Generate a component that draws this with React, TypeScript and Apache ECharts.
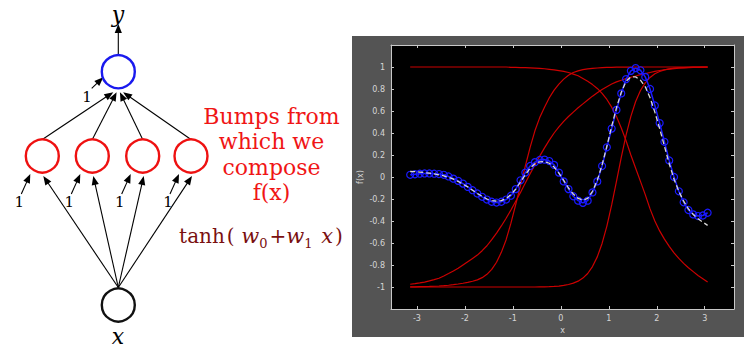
import React, { useEffect, useRef } from "react";
import * as echarts from "echarts";

// sample positions (x) shared by every curve
const xs = [
  -3.14, -3.04, -2.94, -2.84, -2.74, -2.64, -2.54, -2.44, -2.34, -2.24,
  -2.14, -2.04, -1.94, -1.84, -1.74, -1.64, -1.54, -1.44, -1.34, -1.24,
  -1.14, -1.04, -0.94, -0.84, -0.74, -0.64, -0.54, -0.44, -0.34, -0.24,
  -0.14, -0.04, 0.06, 0.16, 0.26, 0.36, 0.46, 0.56, 0.66, 0.76,
  0.86, 0.96, 1.06, 1.16, 1.26, 1.36, 1.46, 1.56, 1.66, 1.76,
  1.86, 1.96, 2.06, 2.16, 2.26, 2.36, 2.46, 2.56, 2.66, 2.76,
  2.86, 2.96, 3.06,
];

// target samples (blue circles)
const target = [
  0.02, 0.025, 0.03, 0.032, 0.032, 0.03, 0.027, 0.02, 0.005, -0.015,
  -0.035, -0.06, -0.09, -0.12, -0.15, -0.18, -0.205, -0.225, -0.232, -0.225,
  -0.205, -0.17, -0.11, -0.03, 0.04, 0.1, 0.135, 0.155, 0.158, 0.145,
  0.11, 0.04, -0.04, -0.11, -0.175, -0.215, -0.235, -0.215, -0.14, -0.04,
  0.1, 0.27, 0.44, 0.61, 0.76, 0.89, 0.965, 0.99, 0.97, 0.91,
  0.8, 0.65, 0.49, 0.32, 0.15, 0.0, -0.13, -0.23, -0.3, -0.34,
  -0.355, -0.35, -0.325,
];

// network output (white dashed)
const fit = [
  0.05, 0.048, 0.045, 0.04, 0.035, 0.028, 0.02, 0.01, -0.003, -0.02,
  -0.04, -0.065, -0.09, -0.12, -0.15, -0.175, -0.2, -0.215, -0.22, -0.215,
  -0.195, -0.16, -0.11, -0.045, 0.02, 0.08, 0.12, 0.138, 0.14, 0.125,
  0.09, 0.035, -0.03, -0.1, -0.155, -0.195, -0.21, -0.195, -0.13, -0.03,
  0.11, 0.28, 0.46, 0.63, 0.77, 0.87, 0.91, 0.91, 0.88, 0.82,
  0.72, 0.59, 0.44, 0.28, 0.12, -0.02, -0.13, -0.22, -0.29, -0.34,
  -0.38, -0.41, -0.44,
];

// hidden-unit bumps (red)
const bumpA = [
  1, 1, 1, 1, 1, 1, 1, 1, 1, 1,
  1, 1, 1, 1, 1, 1, 1, 1, 1, 1,
  1, 0.997, 0.996, 0.995, 0.994, 0.992, 0.99, 0.987, 0.984, 0.979,
  0.974, 0.967, 0.96, 0.95, 0.935, 0.92, 0.895, 0.87, 0.84, 0.805,
  0.76, 0.705, 0.635, 0.55, 0.445, 0.33, 0.2, 0.08, -0.04, -0.16,
  -0.29, -0.4, -0.49, -0.565, -0.63, -0.69, -0.74, -0.785, -0.825, -0.86,
  -0.895, -0.925, -0.955,
];
const bumpB = [
  -0.975, -0.97, -0.963, -0.955, -0.945, -0.933, -0.92, -0.9, -0.878, -0.855,
  -0.83, -0.8, -0.77, -0.74, -0.71, -0.67, -0.625, -0.57, -0.51, -0.445,
  -0.375, -0.3, -0.22, -0.14, -0.055, 0.03, 0.11, 0.19, 0.265, 0.335,
  0.4, 0.455, 0.505, 0.55, 0.59, 0.63, 0.665, 0.7, 0.735, 0.765,
  0.795, 0.82, 0.845, 0.865, 0.88, 0.895, 0.907, 0.918, 0.93, 0.94,
  0.95, 0.96, 0.968, 0.975, 0.98, 0.985, 0.989, 0.992, 0.994, 0.996,
  0.997, 0.998, 0.999,
];
const bumpC = [
  -0.998, -0.998, -0.997, -0.996, -0.995, -0.993, -0.991, -0.988, -0.984, -0.979,
  -0.973, -0.966, -0.958, -0.948, -0.935, -0.915, -0.885, -0.84, -0.775, -0.685,
  -0.57, -0.42, -0.25, -0.075, 0.1, 0.27, 0.42, 0.54, 0.635, 0.72,
  0.79, 0.845, 0.89, 0.925, 0.95, 0.965, 0.976, 0.983, 0.988, 0.991,
  0.994, 0.996, 0.997, 0.998, 0.998, 0.999, 0.999, 1, 1, 1,
  1, 1, 1, 1, 1, 1, 1, 1, 1, 1,
  1, 1, 1,
];
const bumpD = [
  -1, -1, -1, -1, -1, -1, -1, -1, -1, -1,
  -1, -1, -1, -1, -1, -1, -1, -1, -1, -1,
  -1, -1, -1, -1, -1, -1, -1, -0.999, -0.998, -0.997,
  -0.995, -0.992, -0.986, -0.977, -0.965, -0.947, -0.919, -0.877, -0.814, -0.726,
  -0.604, -0.446, -0.254, -0.04, 0.178, 0.38, 0.551, 0.686, 0.786, 0.856,
  0.905, 0.938, 0.959, 0.974, 0.983, 0.989, 0.993, 0.995, 0.997, 0.998,
  0.999, 0.999, 1,
];

const xTicks = [-3, -2, -1, 0, 1, 2, 3];
const yTicks = [-1, -0.8, -0.6, -0.4, -0.2, 0, 0.2, 0.4, 0.6, 0.8, 1];

// network diagram nodes
const hiddenX = [42.3, 92.3, 142.7, 191];
const hiddenY = 156;
const outNode = { x: 118.3, y: 71.7 };
const inNode = { x: 118.3, y: 305 };
const R = 16.5;
const captionLines = ["Bumps from", "which we", "compose", "f(x)"];

function arrow(x1: number, y1: number, x2: number, y2: number, len = 9, hw = 3.6) {
  const dx = x2 - x1, dy = y2 - y1;
  const L = Math.hypot(dx, dy);
  const ux = dx / L, uy = dy / L;
  const bx = x2 - ux * len, by = y2 - uy * len;
  return [
    { type: "line", z: 5, shape: { x1, y1, x2: bx + ux * 2, y2: by + uy * 2 }, style: { stroke: "#000", lineWidth: 1.1 } },
    {
      type: "polygon", z: 6,
      shape: { points: [[x2, y2], [bx - uy * hw, by + ux * hw], [bx + uy * hw, by - ux * hw]] },
      style: { fill: "#000" },
    },
  ];
}

const serif = '"DejaVu Serif", serif';

function buildGraphic() {
  const els: any[] = [];
  els.push({ type: "rect", z: -10, shape: { x: 352, y: 36, width: 392, height: 301 }, style: { fill: "#545454" } });

  // arrows input -> hidden
  hiddenX.forEach((hx) => {
    els.push(...arrow(inNode.x, inNode.y - R - 1, hx + 1, hiddenY + R + 3.5));
  });
  // arrows hidden -> output
  hiddenX.forEach((hx) => {
    els.push(...arrow(hx, hiddenY - R, outNode.x + (hx - outNode.x) * 0.066, outNode.y + R + 4));
  });
  // biases hidden
  hiddenX.forEach((hx) => {
    els.push(...arrow(hx - 21, hiddenY + 38, hx - 12, hiddenY + R + 1.5));
    els.push({ type: "text", z: 7, x: hx - 23, y: hiddenY + 46, style: { text: "1", font: `15px ${serif}`, fill: "#000", align: "center", verticalAlign: "middle" } });
  });
  // bias output
  els.push(...arrow(91.7, 88.3, 103.3, 77.3));
  els.push({ type: "text", z: 7, x: 87, y: 97, style: { text: "1", font: `15px ${serif}`, fill: "#000", align: "center", verticalAlign: "middle" } });
  // output arrow
  els.push(...arrow(outNode.x, outNode.y - R - 1, outNode.x, 24));

  // circles
  hiddenX.forEach((hx) => {
    els.push({ type: "circle", z: 8, shape: { cx: hx, cy: hiddenY, r: R }, style: { fill: "#fff", stroke: "#ee1111", lineWidth: 2.4 } });
  });
  els.push({ type: "circle", z: 8, shape: { cx: outNode.x, cy: outNode.y, r: R }, style: { fill: "#fff", stroke: "#1a1aee", lineWidth: 2.4 } });
  els.push({ type: "circle", z: 8, shape: { cx: inNode.x, cy: inNode.y, r: R }, style: { fill: "#fff", stroke: "#111", lineWidth: 2.4 } });

  // node labels
  els.push({ type: "text", z: 7, x: 118, y: 14, style: { text: "y", font: `italic 22px ${serif}`, fill: "#000", align: "center", verticalAlign: "middle" } });
  els.push({ type: "text", z: 7, x: 118, y: 336, style: { text: "x", font: `italic 22px ${serif}`, fill: "#000", align: "center", verticalAlign: "middle" } });

  // caption
  const ys = [116.3, 141.8, 167.4, 192.5];
  captionLines.forEach((t, i) => {
    els.push({ type: "text", z: 7, x: 271.5, y: ys[i], style: { text: t, font: `22px ${serif}`, fill: "#f01515", align: "center", verticalAlign: "middle" } });
  });

  // tanh formula
  const c = "#7a1010";
  els.push({
    type: "text", z: 7, x: 261, y: 236,
    style: {
      text: "{n|tanh}{p|(}{i| w}{s|0}{n|+}{i|w}{s|1}{i| x}{p|)}",
      fill: c, align: "center", verticalAlign: "middle",
      font: `20px ${serif}`,
      rich: {
        n: { fontSize: 20, fontFamily: serif, fill: c, color: c, lineHeight: 28, verticalAlign: "middle" },
        p: { fontSize: 20, fontFamily: serif, fill: c, color: c, lineHeight: 28, verticalAlign: "middle", padding: [0, 0, 0, 2] },
        i: { fontSize: 21, fontFamily: serif, fontStyle: "italic", fill: c, color: c, lineHeight: 28, verticalAlign: "middle" },
        s: { fontSize: 13, fontFamily: serif, fill: c, color: c, lineHeight: 14, verticalAlign: "bottom", padding: [0, 2, 0, 0] },
      },
    },
  });
  return els;
}

export default function App() {
  const ref = useRef<HTMLDivElement>(null);
  useEffect(() => {
    if (!ref.current) return;
    const chart = echarts.init(ref.current, undefined, { renderer: "svg" });
    const axisColor = "#c8c8c8";
    const labelStyle = { color: "#d6d6d6", fontSize: 8, fontFamily: '"DejaVu Sans", sans-serif' };
    const pts = (ys: number[]) => xs.map((x, i) => [x, ys[i]]);
    const red = (name: string, ys: number[]) => ({
      name, type: "line", data: pts(ys), showSymbol: false, symbol: "none",
      lineStyle: { color: "#cc0000", width: 1.2 }, z: 2,
    });
    const axisLine = { show: true, onZero: false, lineStyle: { color: axisColor, width: 1 } };
    chart.setOption({
      animation: false,
      backgroundColor: "#fff",
      graphic: buildGraphic(),
      grid: { left: 391, top: 45, width: 343, height: 264, show: true, backgroundColor: "#000", borderWidth: 0 },
      xAxis: [
        {
          type: "value", min: -3.54, max: 3.61, position: "bottom",
          axisLine,
          axisTick: { show: true, inside: true, length: 3, customValues: xTicks, lineStyle: { color: axisColor } },
          axisLabel: { show: true, customValues: xTicks, margin: 5, ...labelStyle },
          splitLine: { show: false },
          name: "x", nameLocation: "middle", nameGap: 17, nameTextStyle: labelStyle,
        },
        {
          type: "value", min: -3.54, max: 3.61, position: "top",
          axisLine,
          axisTick: { show: true, inside: true, length: 3, customValues: xTicks, lineStyle: { color: axisColor } },
          axisLabel: { show: false },
          splitLine: { show: false },
        },
      ],
      yAxis: [
        {
          type: "value", min: -1.2, max: 1.2, position: "left",
          axisLine,
          axisTick: { show: true, inside: true, length: 3, customValues: yTicks, lineStyle: { color: axisColor } },
          axisLabel: { show: true, customValues: yTicks, margin: 6, ...labelStyle },
          splitLine: { show: false },
          name: "f(x)", nameLocation: "middle", nameGap: 27, nameRotate: 90, nameTextStyle: labelStyle,
        },
        {
          type: "value", min: -1.2, max: 1.2, position: "right",
          axisLine,
          axisTick: { show: true, inside: true, length: 3, customValues: yTicks, lineStyle: { color: axisColor } },
          axisLabel: { show: false },
          splitLine: { show: false },
        },
      ],
      series: [
        red("bumpA", bumpA),
        red("bumpB", bumpB),
        red("bumpC", bumpC),
        red("bumpD", bumpD),
        {
          name: "target", type: "line", data: pts(target),
          symbol: "circle", symbolSize: 7, showSymbol: true,
          lineStyle: { color: "#1a1aff", width: 1.5 },
          itemStyle: { color: "rgba(0,0,0,0)", borderColor: "#1a1aff", borderWidth: 1.2 },
          z: 3,
        },
        {
          name: "fit", type: "line", data: pts(fit), showSymbol: false, symbol: "none",
          lineStyle: { color: "#d8d8d8", width: 1.3, type: [5, 3] },
          z: 4,
        },
      ],
    });
    return () => chart.dispose();
  }, []);
  return <div ref={ref} style={{ position: "fixed", left: 0, top: 0, width: 744, height: 351 }} />;
}
